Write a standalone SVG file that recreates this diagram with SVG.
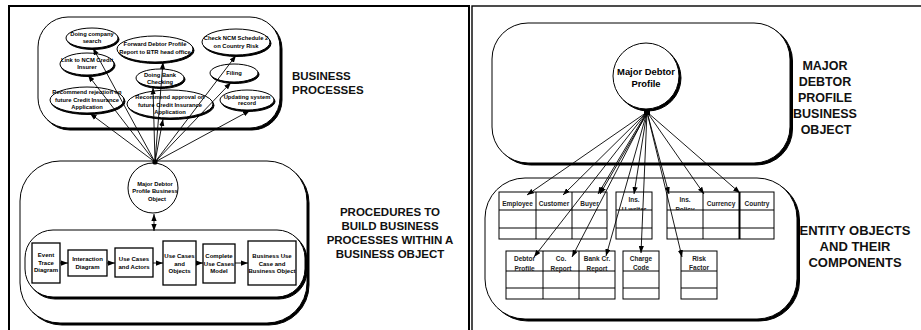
<svg xmlns="http://www.w3.org/2000/svg" width="921" height="330" viewBox="0 0 921 330">
<defs>
<marker id="ah" viewBox="0 0 8 6" refX="8" refY="3" markerWidth="7" markerHeight="5.5" markerUnits="userSpaceOnUse" orient="auto"><path d="M0,0 L8,3 L0,6 z" fill="#000"/></marker>
<marker id="as" viewBox="0 0 8 6" refX="0" refY="3" markerWidth="7" markerHeight="5.5" markerUnits="userSpaceOnUse" orient="auto"><path d="M8,0 L0,3 L8,6 z" fill="#000"/></marker>
<clipPath id="c1"><rect x="616" y="192" width="36" height="18"/></clipPath>
<clipPath id="c2"><rect x="667" y="192" width="36" height="18"/></clipPath>
</defs>
<style>
text{font-family:"Liberation Sans",Arial,sans-serif;font-weight:bold;fill:#000;text-anchor:middle}
.sh{fill:#000;stroke:#000;stroke-width:1}
.bx{fill:#fff;stroke:#000;stroke-width:1}
.el{font-size:5.8px}
.bt{font-size:6px}
.tb{font-size:6.5px;fill:#222}
.tc{fill:none;stroke:#000;stroke-width:1}
.ln{stroke:#000;stroke-width:0.9;fill:none}
.lbl{font-size:11.5px;fill:#111}
.lbr{font-size:12.5px;fill:#111}
.pn{fill:none;stroke:#000;stroke-width:2}
</style>

<!-- panels -->
<g id="panels">
<rect class="pn" x="9" y="6" width="460" height="340"/>
<rect class="pn" x="472" y="6" width="460" height="340" style="stroke-width:1.4"/>
</g>

<!-- LEFT PANEL -->
<g id="business-processes">
<rect class="sh" x="40" y="19" width="242" height="111" rx="30"/>
<rect class="bx" x="38" y="17" width="242" height="111" rx="30"/>
</g>
<g id="procedures">
<rect class="sh" x="22" y="163" width="287" height="162" rx="40"/>
<rect class="bx" x="20" y="161" width="287" height="162" rx="40"/>
</g>
<g id="procedure-chain">
<rect class="sh" x="27" y="232" width="280" height="67" rx="28"/>
<rect class="bx" x="25" y="230" width="280" height="67" rx="28"/>
</g>

<g id="e1"><ellipse class="sh" cx="93" cy="39.5" rx="26" ry="10"/><ellipse class="bx" cx="92" cy="38" rx="26" ry="10"/><text class="el" x="92" y="36">Doing company</text><text class="el" x="92" y="43">search</text></g>
<g id="e2"><ellipse class="sh" cx="88" cy="65.5" rx="27" ry="11"/><ellipse class="bx" cx="87" cy="64" rx="27" ry="11"/><text class="el" x="87" y="62">Link to NCM Credit</text><text class="el" x="87" y="68.5">Insurer</text></g>
<g id="e3"><ellipse class="sh" cx="88" cy="101.5" rx="37" ry="13"/><ellipse class="bx" cx="87" cy="100" rx="37" ry="13"/><text class="el" x="87" y="93.5">Recommend rejection on</text><text class="el" x="87" y="101.5">future Credit Insurance</text><text class="el" x="87" y="109.3">Application</text></g>
<g id="e4"><ellipse class="sh" cx="156" cy="50.5" rx="38" ry="13"/><ellipse class="bx" cx="155" cy="49" rx="38" ry="13"/><text class="el" x="155" y="45.5">Forward Debtor Profile</text><text class="el" x="155" y="53.7">Report to BTR head office</text></g>
<g id="e5"><ellipse class="sh" cx="161" cy="79.5" rx="24" ry="9"/><ellipse class="bx" cx="160" cy="78" rx="24" ry="9"/><text class="el" x="160" y="77">Doing Bank</text><text class="el" x="160" y="83.6">Checking</text></g>
<g id="e6"><ellipse class="sh" cx="171" cy="105.5" rx="43" ry="14"/><ellipse class="bx" cx="170" cy="104" rx="43" ry="14"/><text class="el" x="170" y="99.3">Recommend approval on</text><text class="el" x="170" y="107">future Credit Insurance</text><text class="el" x="170" y="113.7">Application</text></g>
<g id="e7"><ellipse class="sh" cx="237" cy="43.5" rx="34" ry="13"/><ellipse class="bx" cx="236" cy="42" rx="34" ry="13"/><text class="el" x="236" y="40.3">Check NCM Schedule 2</text><text class="el" x="236" y="47.7">on Country Risk</text></g>
<g id="e8"><ellipse class="sh" cx="235" cy="74.5" rx="24" ry="9"/><ellipse class="bx" cx="234" cy="73" rx="24" ry="9"/><text class="el" x="234" y="74.7">Filing</text></g>
<g id="e9"><ellipse class="sh" cx="248" cy="101.5" rx="27" ry="10"/><ellipse class="bx" cx="247" cy="100" rx="27" ry="10"/><text class="el" x="247" y="98.7">Updating system</text><text class="el" x="247" y="105.3">record</text></g>

<g id="mdp-bo"><circle class="bx" cx="153" cy="188" r="25"/><text class="el" x="155" y="185.5">Major Debtor</text><text class="el" x="155" y="193">Profile Business</text><text class="el" x="157" y="200.5">Object</text></g>

<g id="b1"><rect class="bx" x="32" y="243" width="28" height="40" style="stroke-width:1.3"/><text class="bt" x="46" y="257">Event</text><text class="bt" x="46" y="264.5">Trace</text><text class="bt" x="46" y="272">Diagram</text></g>
<g id="b2"><rect class="bx" x="68" y="250" width="39" height="26" style="stroke-width:1.3"/><text class="bt" x="87.5" y="260.5">Interaction</text><text class="bt" x="87.5" y="268.5">Diagram</text></g>
<g id="b3"><rect class="bx" x="115" y="248" width="38" height="29" style="stroke-width:1.3"/><text class="bt" x="134" y="260.5">Use Cases</text><text class="bt" x="134" y="268.5">and Actors</text></g>
<g id="b4"><rect class="bx" x="163" y="241" width="33" height="44" style="stroke-width:1.3"/><text class="bt" x="179.5" y="258">Use Cases</text><text class="bt" x="179.5" y="265.5">and</text><text class="bt" x="179.5" y="273">Objects</text></g>
<g id="b5"><rect class="bx" x="203" y="244" width="32" height="39" style="stroke-width:1.3"/><text class="bt" x="219" y="258">Complete</text><text class="bt" x="219" y="265.5">Use Cases</text><text class="bt" x="219" y="273">Model</text></g>
<g id="b6"><rect class="bx" x="248" y="241" width="48" height="44" style="stroke-width:1.3"/><text class="bt" x="272" y="258">Business Use</text><text class="bt" x="272" y="265.5">Case and</text><text class="bt" x="272" y="273">Business Object</text></g>

<g id="left-labels">
<text class="lbl" x="292" y="80" style="text-anchor:start">BUSINESS</text>
<text class="lbl" x="292" y="94" style="text-anchor:start">PROCESSES</text>
<text class="lbl" x="390" y="216">PROCEDURES TO</text>
<text class="lbl" x="390" y="230">BUILD BUSINESS</text>
<text class="lbl" x="390" y="244">PROCESSES WITHIN A</text>
<text class="lbl" x="390" y="258">BUSINESS OBJECT</text>
</g>

<!-- RIGHT PANEL -->
<g id="mdp-object">
<rect class="sh" x="494.5" y="25" width="298" height="140" rx="36"/>
<rect class="bx" x="492" y="23" width="298" height="140" rx="36"/>
</g>
<g id="entity-objects">
<rect class="sh" x="487.5" y="180" width="312" height="141" rx="40"/>
<rect class="bx" x="485" y="178" width="312" height="141" rx="40"/>
</g>
<g id="mdp"><circle class="sh" cx="648" cy="78" r="33"/><circle class="bx" cx="646" cy="76" r="33"/><text x="646" y="75" style="font-size:9.4px">Major Debtor</text><text x="646" y="87" style="font-size:9.4px">Profile</text></g>

<g id="row1">
<rect class="tc" x="499" y="192" width="108" height="47"/>
<line class="tc" x1="499" y1="210" x2="607" y2="210"/><line class="tc" x1="499" y1="228" x2="607" y2="228"/>
<line class="tc" x1="536" y1="192" x2="536" y2="239"/><line class="tc" x1="572" y1="192" x2="572" y2="239"/>
<text class="tb" x="517.5" y="206">Employee</text><text class="tb" x="554" y="206">Customer</text><text class="tb" x="589.5" y="206">Buyer</text>
<rect class="tc" x="616" y="192" width="36" height="47"/>
<line class="tc" x1="616" y1="210" x2="652" y2="210"/><line class="tc" x1="616" y1="228" x2="652" y2="228"/>
<text class="tb" x="634" y="202">Ins.</text><text class="tb" x="634" y="211.5" clip-path="url(#c1)">U-writer</text>
<rect class="tc" x="667" y="192" width="107" height="47"/>
<line class="tc" x1="667" y1="210" x2="774" y2="210"/><line class="tc" x1="667" y1="228" x2="774" y2="228"/>
<line class="tc" x1="703" y1="192" x2="703" y2="239"/><line class="tc" x1="739.5" y1="192" x2="739.5" y2="239" style="stroke-width:2"/>
<text class="tb" x="685" y="202">Ins.</text><text class="tb" x="685" y="211.5" clip-path="url(#c2)">Policy</text>
<text class="tb" x="721" y="206">Currency</text><text class="tb" x="757" y="206">Country</text>
</g>
<g id="row2">
<rect class="tc" x="506" y="251" width="109" height="48"/>
<line class="tc" x1="506" y1="271" x2="615" y2="271"/><line class="tc" x1="506" y1="288" x2="615" y2="288"/>
<line class="tc" x1="543" y1="251" x2="543" y2="299"/><line class="tc" x1="579" y1="251" x2="579" y2="299"/>
<text class="tb" x="524.5" y="261">Debtor</text><text class="tb" x="524.5" y="270.5">Profile</text>
<text class="tb" x="561" y="261">Co.</text><text class="tb" x="561" y="270.5">Report</text>
<text class="tb" x="597" y="261">Bank Cr.</text><text class="tb" x="597" y="270.5">Report</text>
<rect class="tc" x="623" y="251" width="36" height="48"/>
<line class="tc" x1="623" y1="271" x2="659" y2="271"/><line class="tc" x1="623" y1="288" x2="659" y2="288"/>
<text class="tb" x="641" y="261">Charge</text><text class="tb" x="641" y="269.5">Code</text>
<rect class="tc" x="681" y="251" width="36" height="48"/>
<line class="tc" x1="681" y1="271" x2="717" y2="271"/><line class="tc" x1="681" y1="288" x2="717" y2="288"/>
<text class="tb" x="699" y="261">Risk</text><text class="tb" x="699" y="269.5">Factor</text>
</g>

<g id="right-labels">
<text class="lbr" x="825" y="70">MAJOR</text>
<text class="lbr" x="825" y="86">DEBTOR</text>
<text class="lbr" x="825" y="102">PROFILE</text>
<text class="lbr" x="825" y="118">BUSINESS</text>
<text class="lbr" x="826" y="134">OBJECT</text>
<text class="lbr" x="855" y="235" style="font-size:13px">ENTITY OBJECTS</text>
<text class="lbr" x="855" y="251" style="font-size:13px">AND THEIR</text>
<text class="lbr" x="855" y="267" style="font-size:13px">COMPONENTS</text>
</g>

<g id="connectors">
<!-- left hub to processes -->
<g class="ln" marker-end="url(#ah)">
<line x1="155" y1="162" x2="93" y2="48"/>
<line x1="155" y1="162" x2="88" y2="75"/>
<line x1="155" y1="162" x2="90" y2="113.5"/>
<line x1="155" y1="162" x2="163" y2="62"/>
<line x1="155" y1="162" x2="153" y2="87.5"/>
<line x1="155" y1="162" x2="163" y2="119"/>
<line x1="155" y1="162" x2="236" y2="55.5"/>
<line x1="155" y1="162" x2="231" y2="82.5"/>
<line x1="155" y1="162" x2="250" y2="110.5"/>
</g>
<circle cx="155" cy="162" r="2.6" fill="#000"/>
<line class="ln" x1="154" y1="214" x2="154" y2="231" marker-start="url(#as)" marker-end="url(#ah)"/>
<g class="ln" marker-end="url(#ah)">
<line x1="60" y1="263" x2="68" y2="263"/>
<line x1="107" y1="263" x2="115" y2="263"/>
<line x1="153" y1="263" x2="163" y2="263"/>
<line x1="196" y1="263" x2="203" y2="263"/>
<line x1="235" y1="263" x2="248" y2="263"/>
</g>
<!-- right hub to entities -->
<g class="ln" marker-end="url(#ah)">
<line x1="647" y1="112" x2="527" y2="195"/>
<line x1="647" y1="112" x2="563" y2="195"/>
<line x1="647" y1="112" x2="598" y2="194"/>
<line x1="648" y1="112" x2="600" y2="194"/>
<line x1="647" y1="112" x2="634" y2="194"/>
<line x1="647" y1="112" x2="669" y2="194"/>
<line x1="647" y1="112" x2="704" y2="194"/>
<line x1="647" y1="112" x2="740" y2="193"/>
<line x1="647" y1="112" x2="534" y2="257"/>
<line x1="647" y1="112" x2="572" y2="257"/>
<line x1="647" y1="112" x2="606" y2="256"/>
<line x1="647" y1="112" x2="641" y2="253"/>
<line x1="647" y1="112" x2="682" y2="257"/>
</g>
<rect x="644" y="109" width="6" height="6" fill="#000"/>
</g>
</svg>
